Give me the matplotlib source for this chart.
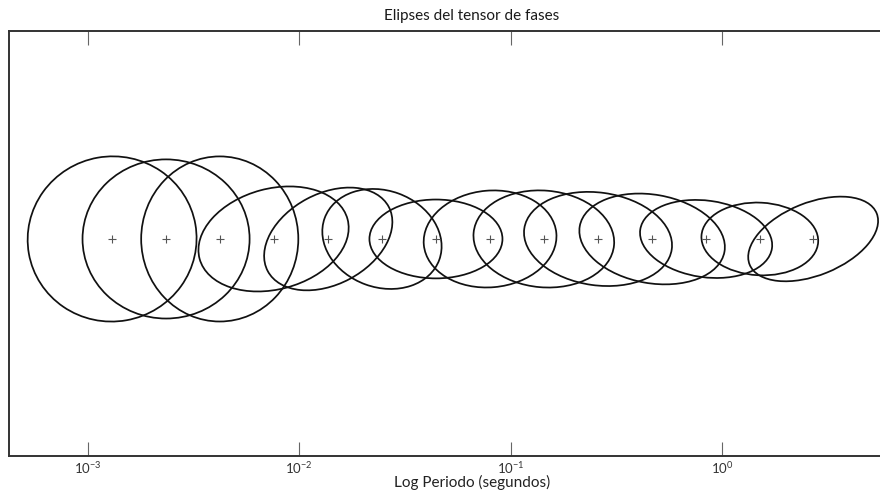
import numpy as np
import matplotlib
matplotlib.use("Agg")
from matplotlib import pyplot as plt
from matplotlib.patches import Ellipse

plt.rcParams['font.family'] = ['Lato', 'DejaVu Sans']
plt.rcParams['mathtext.fontset'] = 'custom'
plt.rcParams['mathtext.rm'] = 'Lato'
plt.rcParams['mathtext.it'] = 'Lato:italic'

# periods (s) of each phase tensor ellipse
periods = [0.00130, 0.00234, 0.00420, 0.00755, 0.0137, 0.0246, 0.0443,
           0.0799, 0.1435, 0.259, 0.467, 0.841, 1.51, 2.70]
# phase tensor: max / min phase (deg) and azimuth (deg)
phimax = [59.6, 58.9, 58.2, 54.0, 48.3, 43.0, 46.9, 46.9, 49.7, 52.5, 51.8, 46.9, 41.2, 48.3]
phimin = [58.2, 56.1, 55.4, 35.5, 32.0, 34.1, 27.8, 34.1, 34.1, 32.7, 31.2, 27.0, 25.6, 25.6]
azimuth = [10, 0, 90, 15, 28, -20, 0, 5, -5, -8, -10, -8, -3, 22]

tick_exp = [-3, -2, -1, 0]

ELL_SIZE = 0.4  # semi-axis (in decades) of the largest ellipse

W, H = 880, 495
fig = plt.figure(figsize=(W / 100, H / 100), dpi=100)
ax = fig.add_axes([9 / W, 39 / H, 926 / W, 425 / H])

scale = ELL_SIZE / max(phimax)
x = np.log10(periods)
for xi, pmax, pmin, az in zip(x, phimax, phimin, azimuth):
    e = Ellipse((xi, 0), 2 * pmax * scale, 2 * pmin * scale, angle=az,
                facecolor='none', edgecolor='#111111', linewidth=1.25)
    ax.add_patch(e)
ax.plot(x, np.zeros(len(x)), '+', color='#555555', markersize=6, markeredgewidth=0.8)

ax.set_xlim(-3.374, 1.008)
ax.set_ylim(-1.027, 0.984)

ax.set_xticks(tick_exp)
ax.set_xticklabels([r'$10^{%d}$' % e for e in tick_exp])
ax.set_yticks([])
ax.tick_params(axis='x', direction='in', length=10, width=0.8, color='#666666',
               top=True, labelsize=9.5, labelcolor='#333333', pad=3)
for s in ax.spines.values():
    s.set_linewidth(1.4)
    s.set_color('#333333')

ax.set_title('Elipses del tensor de fases', fontsize=11, color='#1a1a1a', pad=8)
ax.set_xlabel('Log Periodo (segundos)', fontsize=11, color='#222222', labelpad=-1)

fig.savefig('out.png', dpi=100)
